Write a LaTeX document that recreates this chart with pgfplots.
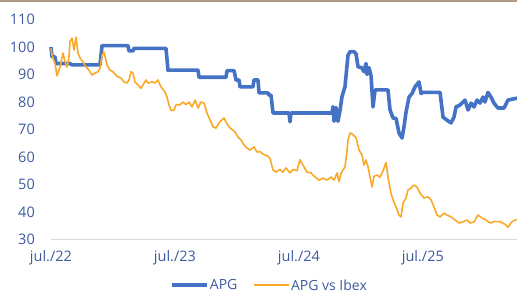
\documentclass[border=0pt]{standalone}
\usepackage{fontspec}
\setmainfont{Open Sans}
\usepackage{pgfplots}
\pgfplotsset{compat=1.18}
\definecolor{apgblue}{RGB}{68,114,196}
\definecolor{apgorange}{RGB}{250,168,40}
\definecolor{labelblue}{RGB}{60,90,160}
\definecolor{axisgray}{RGB}{217,217,217}
\definecolor{toptan}{RGB}{173,154,136}
\begin{document}
\begin{tikzpicture}
\begin{axis}[
  scale only axis,
  width=466pt, height=220pt,
  xmin=0, xmax=45.11, ymin=30, ymax=110,
  axis x line*=bottom, axis y line*=left,
  y axis line style={draw=none},
  x axis line style={draw=axisgray, line width=1pt},
  major tick length=0pt,
  xtick={0,12,24,36},
  xticklabels={jul./22,jul./23,jul./24,jul./25},
  ytick={30,40,50,60,70,80,90,100,110},
  /pgf/number format/assume math mode=true,
  tick label style={font=\fontsize{14.5}{16}\selectfont, text=labelblue},
  yticklabel style={anchor=east, inner sep=0pt, xshift=-16pt},
  xticklabel style={anchor=base, inner sep=0pt, yshift=-22pt},
  legend style={at={(0.468,-0.206)}, anchor=center, draw=none, fill=none,
    font=\fontsize{14}{15}\selectfont, text=labelblue,
    legend columns=2, /tikz/every even column/.append style={column sep=15pt},
    inner sep=0pt,
    nodes={inner sep=1pt, text depth=0pt}},
  legend cell align=left,
  legend image code/.code={\draw[#1] (0pt,0pt) -- (35pt,0pt);},
  clip=false,
]
\addplot[apgblue, line width=3.6pt, line join=round] coordinates {
(0,100)(0.10,96.4)(0.39,96.4)(0.48,94)(1.84,94)(2.03,93.5)(4.74,93.5)(4.94,100.5)
(7.45,100.5)(7.55,98.6)(7.94,98.6)(8.03,99.5)(11.13,99.5)(11.33,91.5)(11.52,91.6)
(14.23,91.6)(14.33,89)(16.94,89)(17.04,91.4)(17.72,91.4)(17.91,88)(18.2,88)(18.3,85.5)
(19.55,85.5)(19.65,88)(20.04,88)(20.14,83.3)(21.01,83.3)(21.1,82.5)(21.3,82.5)(21.49,76)
(23.04,76)(23.14,72.8)(23.23,76)(27.2,76)(27.3,78.3)(27.4,73)(27.59,78)(27.78,73)(27.98,77)
(28.17,82)(28.46,85.6)(28.75,97)(28.95,98.3)(29.33,98.3)(29.53,97.5)(29.72,92.8)(30.11,92.4)
(30.3,91)(30.49,94)(30.59,90)(30.78,92.5)(30.98,89.5)(31.17,78.2)(31.37,84.4)(32.62,84.4)
(32.82,77.1)(33.11,74.2)(33.4,74)(33.69,68.7)(33.98,66.9)(34.17,71)(34.37,76.4)(34.66,81.8)
(34.95,83.1)(35.24,85.5)(35.62,87.3)(35.82,83.1)(36.01,83.5)(37.66,83.5)(37.95,74.5)
(38.33,73.4)(38.72,72.4)(39.01,74.5)(39.21,78.2)(39.59,78.9)(40.08,80.7)(40.37,77.1)
(40.66,79.6)(40.95,78.2)(41.24,80.7)(41.53,79.6)(41.82,81.8)(42.01,80)(42.3,83.5)
(42.59,81.8)(42.88,79.6)(43.27,77.8)(43.85,77.8)(44.24,80.7)(45.11,81.4)
};
\addlegendentry{APG}
\addplot[apgorange, line width=1.6pt, line join=round] coordinates {
(0,99.5)(0.10,97)(0.29,95)(0.39,94)(0.58,89.5)(0.87,92.7)(1.16,97.8)(1.36,94.6)(1.55,92.7)
(1.74,96.4)(1.84,102)(2.03,103.2)(2.23,98.9)(2.42,103.6)(2.61,97.8)(2.81,96)(3.10,94.5)
(3.39,92.7)(3.68,91.6)(3.97,89.8)(4.26,90.5)(4.55,91)(4.74,92.3)(4.94,97)(5.13,98.2)
(5.42,93.5)(5.71,91.6)(6.00,91)(6.29,89.8)(6.49,89.1)(6.78,88.7)(7.07,87.3)(7.36,86.9)
(7.55,88)(7.74,91)(7.94,90.5)(8.13,87.3)(8.42,86.2)(8.71,85)(8.91,86.2)(9.20,88)(9.39,86.9)
(9.78,87.3)(10.07,86.9)(10.36,88)(10.55,86.2)(10.75,85)(11.04,83.6)(11.23,81.8)(11.42,78.9)
(11.62,77)(11.91,77)(12.10,79)(12.49,79)(12.78,80)(13.07,79)(13.36,80)(13.65,78.2)
(13.94,80.7)(14.23,77.8)(14.52,80)(14.81,79.6)(15.10,76)(15.39,73.5)(15.68,71)(15.97,70.5)
(16.26,72.4)(16.55,73.5)(16.75,74.2)(16.94,72.7)(17.23,71)(17.52,70)(17.81,69.1)(18.10,67.3)
(18.39,66.2)(18.68,64.4)(18.97,63.3)(19.26,62.5)(19.65,63.7)(19.94,61.8)(20.23,62)
(20.52,61)(20.91,60.5)(21.20,59.5)(21.49,55.3)(21.78,54.5)(22.17,55.5)(22.46,54.5)(22.75,56)
(23.14,54.2)(23.43,55.5)(23.81,55)(24.10,59)(24.49,56.4)(24.78,54.5)(25.17,54.2)(25.56,52.7)
(25.94,51.6)(26.33,52.3)(26.72,51.6)(27.11,52.7)(27.40,51.6)(27.69,54.2)(27.88,51)(28.07,54)
(28.27,55.3)(28.46,56.4)(28.66,62.5)(28.75,66.2)(28.95,68.8)(29.24,68.1)(29.53,67)
(29.82,62.5)(30.11,60.7)(30.30,57)(30.49,58.9)(30.69,56.4)(30.88,52.7)(31.07,49.1)
(31.27,53)(31.56,53.4)(31.85,52.7)(32.14,55)(32.43,58)(32.62,52.7)(32.91,46.9)(33.11,44.4)
(33.40,41.8)(33.69,38.9)(33.88,38.2)(34.08,43.3)(34.37,45.1)(34.56,48)(34.85,48.7)
(35.14,49.8)(35.43,49.1)(35.72,46.9)(36.11,45.1)(36.50,45.5)(36.79,44.4)(37.08,41.8)
(37.37,38.9)(37.66,38.2)(38.04,39.6)(38.33,38.9)(38.72,38.2)(39.11,37.1)(39.50,36)
(39.88,36.4)(40.27,37.1)(40.56,36)(40.95,36.4)(41.34,38.9)(41.72,37.8)(42.11,37.1)
(42.50,36)(42.88,36.5)(43.47,36.5)(43.95,35.5)(44.24,34.5)(44.63,36.5)(45.11,37.4)
};
\addlegendentry{APG vs Ibex}
\end{axis}
\pgfresetboundingbox
\path[use as bounding box] ([shift={(-51pt,-53.5pt)}]current axis.south west) rectangle ([shift={(0pt,19.5pt)}]current axis.north east);
\fill[toptan] ([shift={(-51pt,19.5pt)}]current axis.north west) rectangle ([shift={(0pt,17pt)}]current axis.north east);
\end{tikzpicture}
\end{document}
